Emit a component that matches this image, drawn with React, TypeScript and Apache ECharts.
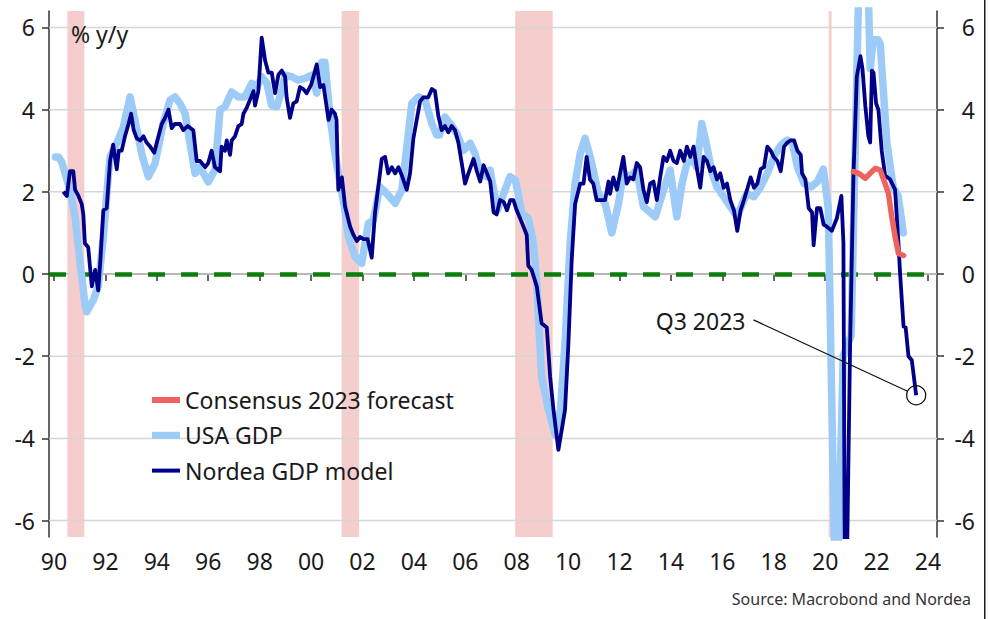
import React, { useEffect, useRef } from "react";
import * as echarts from "echarts";

// ---------- data ----------
const NORDEA_MODEL: [number, number][] = [
  [1990.36, 2.0], [1990.5, 1.9], [1990.62, 2.5], [1990.75, 2.5], [1990.82, 2.05], [1990.95, 1.9],
  [1991.08, 1.7], [1991.14, 1.45], [1991.2, 0.75], [1991.33, 0.65], [1991.47, -0.3], [1991.6, 0.1],
  [1991.72, -0.4], [1991.8, 0.3], [1991.92, 1.55], [1992.05, 1.6], [1992.18, 2.75], [1992.3, 3.15],
  [1992.44, 2.55], [1992.52, 3.0], [1992.63, 3.0], [1992.76, 3.35], [1992.9, 3.65], [1993.0, 3.9],
  [1993.1, 3.5], [1993.22, 3.3], [1993.35, 3.25], [1993.48, 3.35], [1993.6, 3.2], [1993.74, 3.1],
  [1993.9, 2.95], [1994.0, 3.2], [1994.19, 3.65], [1994.32, 3.8], [1994.45, 4.0], [1994.58, 3.55],
  [1994.7, 3.65], [1994.9, 3.65], [1995.03, 3.5], [1995.2, 3.6], [1995.42, 3.5], [1995.55, 2.75],
  [1995.68, 2.75], [1995.88, 2.6], [1996.0, 2.7], [1996.13, 3.0], [1996.26, 2.6], [1996.46, 2.5],
  [1996.52, 3.1], [1996.65, 3.0], [1996.72, 3.25], [1996.85, 2.9], [1996.91, 3.25], [1997.04, 3.35],
  [1997.17, 3.6], [1997.3, 3.65], [1997.37, 3.9], [1997.5, 4.05], [1997.63, 4.25], [1997.76, 4.45],
  [1997.82, 4.1], [1997.95, 4.45], [1998.08, 5.75], [1998.21, 5.2], [1998.34, 4.9], [1998.47, 4.9],
  [1998.6, 4.4], [1998.73, 4.85], [1998.86, 4.95], [1998.99, 4.8], [1999.05, 4.3], [1999.18, 3.8],
  [1999.31, 4.15], [1999.44, 4.2], [1999.57, 4.55], [1999.7, 4.5], [1999.83, 4.4], [2000.0, 4.6],
  [2000.09, 4.8], [2000.22, 5.1], [2000.35, 4.55], [2000.48, 4.6], [2000.68, 3.75], [2000.8, 4.0],
  [2000.93, 3.9], [2000.99, 3.75], [2001.06, 2.05], [2001.2, 2.35], [2001.32, 1.65], [2001.52, 1.15],
  [2001.65, 0.95], [2001.78, 0.8], [2001.9, 0.9], [2002.04, 0.85], [2002.2, 0.85], [2002.36, 0.4],
  [2002.49, 1.5], [2002.62, 2.15], [2002.75, 2.8], [2002.88, 2.85], [2003.0, 2.45], [2003.14, 2.6],
  [2003.27, 2.45], [2003.4, 2.6], [2003.53, 2.4], [2003.72, 2.05], [2003.85, 2.45], [2003.98, 3.3],
  [2004.11, 3.75], [2004.24, 4.2], [2004.37, 4.3], [2004.56, 4.3], [2004.7, 4.5], [2004.82, 4.45],
  [2004.95, 3.85], [2005.08, 3.5], [2005.21, 3.6], [2005.34, 3.45], [2005.47, 3.6], [2005.6, 3.5],
  [2005.73, 3.2], [2005.86, 2.7], [2005.99, 2.2], [2006.12, 2.45], [2006.32, 2.8], [2006.45, 2.5],
  [2006.58, 2.25], [2006.71, 2.65], [2006.84, 2.45], [2006.97, 2.25], [2007.1, 1.5], [2007.22, 1.45],
  [2007.35, 1.8], [2007.5, 1.75], [2007.62, 1.55], [2007.75, 1.8], [2007.87, 1.8], [2008.0, 1.55],
  [2008.2, 1.25], [2008.39, 0.95], [2008.45, 0.2], [2008.58, 0.1], [2008.78, -0.3], [2008.97, -1.2],
  [2009.17, -1.3], [2009.3, -2.5], [2009.43, -3.3], [2009.62, -4.28], [2009.75, -3.8], [2009.88, -3.3],
  [2010.01, -1.7], [2010.14, 0.35], [2010.27, 1.7], [2010.47, 2.2], [2010.6, 2.2], [2010.72, 2.85],
  [2010.85, 2.3], [2010.98, 2.2], [2011.11, 1.8], [2011.24, 1.8], [2011.44, 1.8], [2011.57, 2.25],
  [2011.63, 1.95], [2011.76, 2.35], [2011.9, 2.05], [2012.02, 2.45], [2012.15, 2.85], [2012.28, 2.2],
  [2012.41, 2.35], [2012.54, 2.3], [2012.67, 2.7], [2012.8, 2.6], [2012.93, 2.05], [2013.06, 1.75],
  [2013.19, 2.2], [2013.32, 2.25], [2013.45, 1.8], [2013.58, 2.35], [2013.71, 2.85], [2013.84, 2.75],
  [2013.97, 3.0], [2014.1, 2.75], [2014.23, 2.7], [2014.36, 3.0], [2014.5, 2.75], [2014.62, 3.1],
  [2014.75, 2.85], [2014.88, 3.1], [2015.0, 2.6], [2015.14, 2.1], [2015.27, 2.85], [2015.4, 2.75],
  [2015.53, 2.5], [2015.66, 2.6], [2015.79, 2.3], [2015.92, 2.45], [2016.05, 2.1], [2016.18, 2.2],
  [2016.31, 1.8], [2016.45, 1.55], [2016.58, 1.05], [2016.71, 1.55], [2016.84, 1.8], [2016.96, 2.05],
  [2017.1, 2.35], [2017.23, 2.1], [2017.36, 2.2], [2017.49, 2.55], [2017.62, 2.6], [2017.75, 3.1],
  [2017.88, 3.0], [2018.0, 2.85], [2018.14, 2.75], [2018.27, 2.5], [2018.4, 3.1], [2018.53, 3.2],
  [2018.66, 3.25], [2018.79, 3.25], [2018.92, 3.0], [2019.05, 2.9], [2019.1, 2.45], [2019.23, 2.3],
  [2019.36, 1.6], [2019.49, 1.5], [2019.55, 0.7], [2019.68, 1.6], [2019.81, 1.6], [2019.94, 1.2],
  [2020.07, 1.15], [2020.26, 1.05], [2020.45, 1.35], [2020.63, 1.9], [2020.71, 0.75], [2020.78, -10.0],
  [2020.97, -1.7], [2021.1, 2.4], [2021.23, 4.8], [2021.37, 5.3], [2021.45, 5.0], [2021.56, 4.1],
  [2021.68, 3.35], [2021.75, 3.2], [2021.82, 4.95], [2021.88, 4.9], [2021.98, 4.15], [2022.07, 4.0],
  [2022.2, 3.0], [2022.33, 2.4], [2022.53, 2.3], [2022.72, 2.05], [2022.85, 0.75], [2022.92, -0.05],
  [2023.05, -1.28], [2023.13, -1.3], [2023.24, -2.0], [2023.37, -2.1], [2023.54, -2.95],
];

const USA_GDP: [number, number][] = [
  [1990.05, 2.85], [1990.17, 2.85], [1990.3, 2.73], [1990.62, 2.04], [1990.82, 1.39], [1991.0, 0.34],
  [1991.2, -0.71], [1991.27, -0.92], [1991.53, -0.63], [1991.72, -0.3], [1991.92, 0.91], [1992.11, 2.37],
  [1992.18, 2.85], [1992.44, 3.18], [1992.7, 3.58], [1992.96, 4.31], [1993.15, 3.74], [1993.41, 2.93],
  [1993.67, 2.37], [1993.93, 2.69], [1994.25, 3.66], [1994.51, 4.23], [1994.71, 4.31], [1994.9, 4.15],
  [1995.1, 3.9], [1995.29, 3.18], [1995.49, 2.45], [1995.68, 2.6], [1996.0, 2.24], [1996.26, 2.53],
  [1996.46, 4.0], [1996.65, 4.07], [1996.91, 4.43], [1997.17, 4.31], [1997.43, 4.31], [1997.69, 4.64],
  [1997.89, 4.55], [1998.08, 4.8], [1998.28, 4.64], [1998.47, 4.1], [1998.67, 4.07], [1998.86, 4.47],
  [1998.99, 4.84], [1999.25, 4.8], [1999.5, 4.72], [1999.77, 4.76], [2000.03, 4.84], [2000.22, 4.4],
  [2000.42, 5.15], [2000.54, 5.15], [2000.74, 3.82], [2000.93, 2.93], [2001.13, 2.2], [2001.32, 1.55],
  [2001.45, 0.91], [2001.71, 0.42], [2001.97, 0.26], [2002.23, 1.23], [2002.42, 1.31], [2002.68, 2.12],
  [2002.94, 1.96], [2003.27, 1.72], [2003.53, 2.04], [2003.92, 4.15], [2004.18, 4.31], [2004.44, 4.23],
  [2004.7, 3.66], [2004.89, 3.38], [2005.0, 3.38], [2005.21, 3.82], [2005.41, 3.66], [2005.67, 3.42],
  [2005.93, 3.01], [2006.19, 3.18], [2006.38, 2.93], [2006.58, 2.45], [2006.84, 2.37], [2006.96, 2.53],
  [2007.25, 1.55], [2007.74, 2.37], [2007.95, 2.28], [2008.2, 1.48], [2008.45, 1.36], [2008.65, 0.75],
  [2008.78, -0.22], [2008.9, -1.69], [2008.97, -2.5], [2009.23, -3.3], [2009.5, -3.91], [2009.7, -3.31],
  [2009.88, -1.69], [2010.08, 0.75], [2010.27, 2.2], [2010.47, 2.93], [2010.66, 3.3], [2010.86, 2.85],
  [2011.18, 1.96], [2011.44, 1.72], [2011.7, 1.0], [2011.96, 1.72], [2012.15, 2.45], [2012.41, 2.37],
  [2012.67, 2.53], [2012.93, 1.64], [2013.1, 1.55], [2013.39, 1.39], [2013.71, 2.04], [2013.97, 2.53],
  [2014.23, 1.39], [2014.43, 2.2], [2014.62, 2.69], [2014.88, 2.77], [2015.0, 2.6], [2015.2, 3.66],
  [2015.4, 3.1], [2015.6, 2.45], [2015.79, 2.12], [2016.05, 1.88], [2016.31, 1.64], [2016.58, 1.39],
  [2016.78, 1.72], [2016.96, 1.96], [2017.23, 1.88], [2017.49, 2.12], [2017.75, 2.45], [2018.0, 2.85],
  [2018.27, 3.13], [2018.53, 3.26], [2018.73, 3.18], [2018.92, 2.6], [2019.18, 2.2], [2019.45, 2.12],
  [2019.7, 2.25], [2019.93, 2.55], [2020.12, 1.6], [2020.43, -9.0], [2020.7, -2.0], [2021.01, -1.5],
  [2021.48, 12.0], [2021.75, 5.0], [2021.87, 5.7], [2022.06, 5.7], [2022.14, 5.6], [2022.4, 3.2],
  [2022.65, 2.1], [2022.84, 1.9], [2023.04, 1.0],
];

const CONSENSUS_2023: [number, number][] = [
  [2021.1, 2.49], [2021.3, 2.45], [2021.56, 2.33], [2021.75, 2.45], [2021.95, 2.57], [2022.14, 2.53],
  [2022.33, 2.2], [2022.46, 1.96], [2022.59, 1.39], [2022.72, 0.91], [2022.85, 0.5], [2023.05, 0.45],
];

const RECESSIONS: [number, number][] = [
  [1990.52, 1991.18],
  [2001.19, 2001.87],
  [2007.94, 2009.4],
  [2020.14, 2020.25],
];

const Y_TICKS = [-6, -4, -2, 0, 2, 4, 6];
const X_TICKS = [
  1990, 1992, 1994, 1996, 1998, 2000, 2002, 2004, 2006, 2008, 2010, 2012, 2014, 2016, 2018, 2020,
  2022, 2024,
];
const X_RANGE: [number, number] = [1989.805, 2024.35];
const Y_RANGE: [number, number] = [-6.4, 6.4];

const Q3_POINT: [number, number] = [2023.54, -2.95];
const Q3_LABEL_POS: [number, number] = [2016.9, -1.14];
const Q3_LABEL = "Q3 2023";

const LEGEND = [
  { name: "Consensus 2023 forecast", color: "#f0625e", thickness: 6 },
  { name: "USA GDP", color: "#9dcbf7", thickness: 7 },
  { name: "Nordea GDP model", color: "#000088", thickness: 4 },
];

const UNIT_LABEL = "% y/y";
const SOURCE = "Source: Macrobond and Nordea";

const FONT = "'Noto Sans', sans-serif";
const TXT = "#1a1a1a";

export default function App() {
  const ref = useRef<HTMLDivElement>(null);

  useEffect(() => {
    document.body.style.margin = "0";
    const chart = echarts.init(ref.current!, null, { renderer: "svg" });

    const yAxisBase = {
      type: "value",
      min: Y_RANGE[0],
      max: Y_RANGE[1],
      splitLine: { show: false },
      axisLine: { show: true, lineStyle: { color: "#333", width: 1.5 } },
      axisTick: {
        show: true,
        customValues: Y_TICKS,
        length: 7,
        lineStyle: { color: "#333", width: 1.5 },
      },
      axisLabel: {
        customValues: Y_TICKS,
        fontFamily: FONT,
        fontSize: 23,
        color: TXT,
      },
    };

    chart.setOption({
      animation: false,
      backgroundColor: "#fff",
      grid: { left: 49, right: 51, top: 11, bottom: 82 },
      xAxis: {
        type: "value",
        min: X_RANGE[0],
        max: X_RANGE[1],
        splitLine: { show: false },
        axisLine: { lineStyle: { color: "#333", width: 1.5 } },
        axisTick: {
          show: true,
          customValues: X_TICKS,
          length: 7,
          lineStyle: { color: "#333", width: 1.5 },
        },
        axisLabel: {
          customValues: X_TICKS,
          margin: 12,
          fontFamily: FONT,
          fontSize: 23,
          color: TXT,
          formatter: (v: number) => String(Math.round(v) % 100).padStart(2, "0"),
        },
      },
      yAxis: [
        {
          ...yAxisBase,
          position: "left",
          axisLabel: { ...yAxisBase.axisLabel, margin: 14 },
        },
        {
          ...yAxisBase,
          position: "right",
          axisLabel: { ...yAxisBase.axisLabel, margin: 38, align: "right" },
        },
      ],
      series: [
        {
          name: "USA GDP",
          type: "line",
          data: USA_GDP,
          showSymbol: false,
          z: 10,
          lineStyle: { color: "#9dcbf7", width: 7.5, join: "round", cap: "round" },
          markArea: {
            silent: true,
            z: 1,
            itemStyle: { color: "#f5cdcd" },
            data: RECESSIONS.map(([a, b]) => [{ xAxis: a }, { xAxis: b }]),
          },
          markLine: {
            silent: true,
            z: 3,
            symbol: "none",
            label: { show: false },
            lineStyle: { color: "#0b7d0b", width: 4.5, type: [17, 16] },
            data: [{ yAxis: 0 }],
          },
        },
        {
          name: "Nordea GDP model",
          type: "line",
          data: NORDEA_MODEL,
          showSymbol: false,
          z: 11,
          lineStyle: { color: "#000088", width: 3.8, join: "round" },
        },
        {
          name: "Consensus 2023 forecast",
          type: "line",
          data: CONSENSUS_2023,
          showSymbol: false,
          z: 12,
          lineStyle: { color: "#f0625e", width: 5.5, join: "round", cap: "round" },
        },
      ],
    });

    const toPx = (p: [number, number]) =>
      chart.convertToPixel({ gridIndex: 0 }, p) as number[];

    // horizontal gridlines at the y ticks, via the axis scale
    const [gx0] = toPx([X_RANGE[0], 0]);
    const [gx1] = toPx([X_RANGE[1], 0]);
    const gridEls = Y_TICKS.map((v) => {
      const [, gy] = toPx([X_RANGE[0], v]);
      return {
        type: "line",
        shape: { x1: gx0, y1: gy, x2: gx1, y2: gy },
        style: { stroke: "#d6d6d6", lineWidth: 1.5 },
        z: 2,
        silent: true,
      };
    });

    const [cx, cy] = toPx(Q3_POINT);
    const [lx, ly] = toPx(Q3_LABEL_POS);
    const r = 9.5;
    const sx = lx + 8;
    const sy = ly - 1;
    const dx = cx - sx;
    const dy = cy - sy;
    const d = Math.sqrt(dx * dx + dy * dy);
    const ex = cx - (dx / d) * r;
    const ey = cy - (dy / d) * r;

    const legendEls: any[] = [];
    LEGEND.forEach((item, i) => {
      const y = 400 + i * 35.3;
      legendEls.push({
        type: "rect",
        shape: { x: 152, y: y - item.thickness / 2, width: 28, height: item.thickness },
        style: { fill: item.color },
        z: 50,
      });
      legendEls.push({
        type: "text",
        x: 185,
        y,
        style: {
          text: item.name,
          fontFamily: FONT,
          fontSize: 23,
          fill: TXT,
          align: "left",
          verticalAlign: "middle",
        },
        z: 50,
      });
    });

    chart.setOption({
      graphic: [
        ...gridEls,
        {
          type: "text",
          x: 71,
          y: 34,
          style: {
            text: UNIT_LABEL,
            fontFamily: FONT,
            fontSize: 23,
            fill: TXT,
            align: "left",
            verticalAlign: "middle",
          },
          z: 50,
        },
        ...legendEls,
        {
          type: "text",
          x: lx,
          y: ly,
          style: {
            text: Q3_LABEL,
            fontFamily: FONT,
            fontSize: 23,
            fill: TXT,
            align: "right",
            verticalAlign: "middle",
          },
          z: 50,
        },
        {
          type: "line",
          shape: { x1: sx, y1: sy, x2: ex, y2: ey },
          style: { stroke: "#111", lineWidth: 1.2 },
          z: 50,
        },
        {
          type: "circle",
          shape: { cx, cy, r },
          style: { fill: "none", stroke: "#111", lineWidth: 1.3 },
          z: 50,
        },
        {
          type: "text",
          x: 971,
          y: 599,
          style: {
            text: SOURCE,
            fontFamily: FONT,
            fontSize: 16,
            fill: "#333",
            align: "right",
            verticalAlign: "middle",
          },
          z: 50,
        },
        {
          type: "rect",
          shape: { x: 984, y: 0, width: 1.5, height: 619 },
          style: { fill: "#1a1a1a" },
          z: 50,
        },
      ],
    });

    return () => chart.dispose();
  }, []);

  return (
    <div
      ref={ref}
      style={{ position: "fixed", left: 0, top: 0, width: 988, height: 619, background: "#fff" }}
    />
  );
}
